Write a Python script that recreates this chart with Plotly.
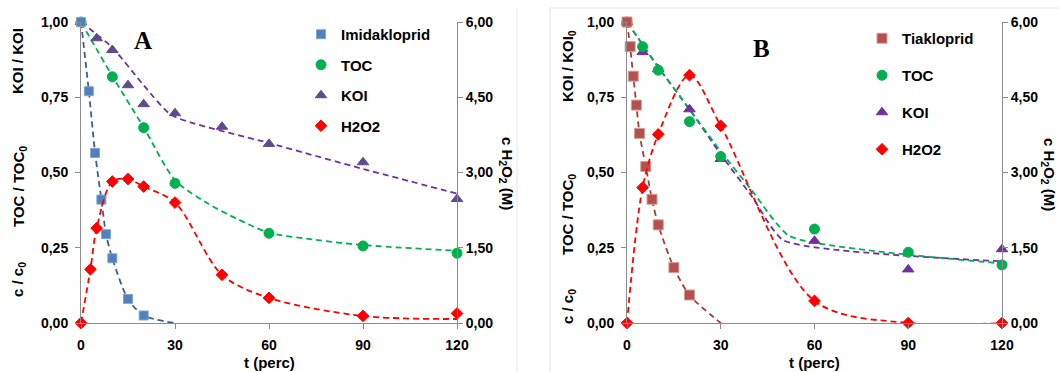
import plotly.graph_objects as go

# ---------------- Panel A: Imidakloprid ----------------
t_imid_a = [0, 2.5, 4.5, 6.5, 8, 10, 15, 20]
imid_a = [1.00, 0.77, 0.565, 0.41, 0.295, 0.215, 0.08, 0.025]
t_imid_fit_a = [0, 2.5, 4.5, 6.5, 8, 10, 15, 20, 30]
imid_fit_a = [1.00, 0.77, 0.565, 0.41, 0.295, 0.215, 0.08, 0.025, 0.0]

t_toc_a = [0, 10, 20, 30, 60, 90, 120]
toc_a = [1.00, 0.818, 0.649, 0.464, 0.298, 0.256, 0.232]
t_toc_fit_a = [0, 10, 20, 30, 40, 50, 60, 75, 90, 120]
toc_fit_a = [1.00, 0.82, 0.65, 0.475, 0.40, 0.345, 0.30, 0.276, 0.259, 0.24]

t_koi_a = [0, 5, 10, 15, 20, 30, 45, 60, 90, 120]
koi_a = [1.00, 0.946, 0.907, 0.79, 0.727, 0.697, 0.652, 0.595, 0.534, 0.412]
t_koi_fit_a = [0, 10, 20, 29, 60, 90, 120]
koi_fit_a = [1.00, 0.915, 0.79, 0.69, 0.598, 0.512, 0.43]

t_h2o2_a = [0, 3, 5, 10, 15, 20, 30, 45, 60, 90, 120]
h2o2_a = [0.0, 1.07, 1.89, 2.82, 2.87, 2.72, 2.40, 0.96, 0.50, 0.14, 0.19]
t_h2o2_fit_a = [0, 3, 5, 10, 15, 20, 30, 45, 60, 90, 120]
h2o2_fit_a = [0.0, 1.07, 1.89, 2.82, 2.87, 2.72, 2.40, 0.96, 0.50, 0.14, 0.08]

# ---------------- Panel B: Tiakloprid ----------------
t_tiak_b = [0, 1, 2, 3, 4, 6, 8, 10, 15, 20]
tiak_b = [1.00, 0.918, 0.82, 0.724, 0.63, 0.52, 0.411, 0.326, 0.184, 0.093]
t_tiak_fit_b = [0, 1, 2, 3, 4, 6, 8, 10, 15, 20, 30]
tiak_fit_b = [1.00, 0.918, 0.82, 0.724, 0.63, 0.52, 0.411, 0.326, 0.184, 0.093, 0.0]

t_toc_b = [0, 5, 10, 20, 30, 60, 90, 120]
toc_b = [1.00, 0.918, 0.84, 0.669, 0.553, 0.312, 0.235, 0.193]
t_toc_fit_b = [0, 10, 20, 30, 40, 52, 120]
toc_fit_b = [1.00, 0.85, 0.71, 0.57, 0.44, 0.289, 0.198]

t_koi_b = [0, 5, 10, 20, 30, 60, 90, 120]
koi_b = [1.00, 0.90, 0.843, 0.71, 0.545, 0.273, 0.178, 0.245]
t_koi_fit_b = [0, 10, 20, 30, 40, 50, 120]
koi_fit_b = [1.00, 0.85, 0.71, 0.56, 0.42, 0.275, 0.205]

t_h2o2_b = [0, 5, 10, 20, 30, 60, 90, 120]
h2o2_b = [0.0, 2.70, 3.76, 4.94, 3.93, 0.44, 0.0, 0.0]

# ---------------- axis ticks ----------------
x_ticks = [0, 30, 60, 90, 120]
y_ticks = [0, 0.25, 0.5, 0.75, 1.0]
y2_ticks = [0, 1.5, 3.0, 4.5, 6.0]

FONT = "Liberation Sans, Arial, sans-serif"
AXIS_GRAY = "#8c8c8c"
DASH = "6px,4px"

W, H = 1059, 372


def px_x(p):
    return p / W


def px_y(p):
    return (H - p) / H


fig = go.Figure()


def fit_line(x, y, xa, ya, color, smoothing=1.0):
    fig.add_trace(go.Scatter(
        x=x, y=y, xaxis=xa, yaxis=ya, mode="lines",
        line=dict(color=color, width=1.8, dash=DASH, shape="spline", smoothing=smoothing),
        showlegend=False, hoverinfo="skip", cliponaxis=False))


def points(x, y, xa, ya, name, symbol, size, color, edge, legend, rank):
    fig.add_trace(go.Scatter(
        x=x, y=y, xaxis=xa, yaxis=ya, mode="markers", name=name,
        marker=dict(symbol=symbol, size=size, color=color, line=dict(color=edge, width=1)),
        legend=legend, legendgroup=legend + name, legendrank=rank, cliponaxis=False))


# Panel A fitted curves
fit_line(t_koi_fit_a, koi_fit_a, "x", "y", "#7030A0", 0.6)
fit_line(t_toc_fit_a, toc_fit_a, "x", "y", "#00B050", 0.8)
fit_line(t_imid_fit_a, imid_fit_a, "x", "y", "#3D5E8E", 0.8)
fit_line(t_h2o2_fit_a, h2o2_fit_a, "x", "y2", "#FF0000", 0.9)

# Panel A measured points
points(t_h2o2_a, h2o2_a, "x", "y2", "H2O2", "diamond", 9, "#FF0000", "#FF0000", "legend", 4)
points(t_koi_a, koi_a, "x", "y", "KOI", "triangle-up", 10, "#5F4B8B", "#5F4B8B", "legend", 3)
points(t_toc_a, toc_a, "x", "y", "TOC", "circle", 10, "#00B050", "#00B050", "legend", 2)
points(t_imid_a, imid_a, "x", "y", "Imidakloprid", "square", 9, "#4F81BD", "#7FA3D1", "legend", 1)

# Panel B fitted curves
fit_line(t_koi_fit_b, koi_fit_b, "x2", "y3", "#7030A0", 0.5)
fit_line(t_toc_fit_b, toc_fit_b, "x2", "y3", "#00B050", 0.5)
fit_line(t_tiak_fit_b, tiak_fit_b, "x2", "y3", "#A83C3C", 0.8)
fit_line(t_h2o2_b, h2o2_b, "x2", "y4", "#FF0000", 0.9)

# Panel B measured points
points(t_h2o2_b, h2o2_b, "x2", "y4", "H2O2", "diamond", 9, "#FF0000", "#FF0000", "legend2", 4)
points(t_koi_b, koi_b, "x2", "y3", "KOI", "triangle-up", 10, "#7030A0", "#7030A0", "legend2", 3)
points(t_toc_b, toc_b, "x2", "y3", "TOC", "circle", 10, "#00B050", "#00B050", "legend2", 2)
points(t_tiak_b, tiak_b, "x2", "y3", "Tiakloprid", "square", 10, "#B5504D", "#D59A98", "legend2", 1)

tickfont = dict(family=FONT, size=14, color="black", weight="bold")

xaxis_common = dict(
    range=[0, 120], tickvals=x_ticks, tickformat="d", showgrid=False, zeroline=False,
    showline=True, linecolor=AXIS_GRAY, linewidth=1, ticks="outside", ticklen=5,
    tickcolor=AXIS_GRAY, tickfont=tickfont, automargin=False, ticklabelstandoff=4)
yaxis_common = dict(
    range=[0, 1], tickvals=y_ticks, tickformat=".2f", showgrid=False, zeroline=False,
    showline=True, linecolor=AXIS_GRAY, linewidth=1, ticks="outside", ticklen=5,
    tickcolor=AXIS_GRAY, tickfont=tickfont, ticklabelstandoff=4, automargin=False)
y2_common = dict(
    range=[0, 6], tickvals=y2_ticks, tickformat=".2f", showgrid=False, zeroline=False,
    showline=True, linecolor=AXIS_GRAY, linewidth=1, ticks="outside", ticklen=5,
    tickcolor=AXIS_GRAY, tickfont=tickfont, side="right", automargin=False)

dom_y = [px_y(323), px_y(22)]

legend_font = dict(family=FONT, size=15, color="black", weight="bold")

fig.update_layout(
    template="none",
    width=W, height=H, margin=dict(l=0, r=0, t=0, b=0, autoexpand=False),
    paper_bgcolor="white", plot_bgcolor="white",
    separators=",.",
    xaxis=dict(xaxis_common, domain=[px_x(81), px_x(457)], anchor="y"),
    yaxis=dict(yaxis_common, domain=dom_y, anchor="x"),
    yaxis2=dict(y2_common, overlaying="y", anchor="x"),
    xaxis2=dict(xaxis_common, domain=[px_x(627), px_x(1002)], anchor="y3"),
    yaxis3=dict(yaxis_common, domain=dom_y, anchor="x2"),
    yaxis4=dict(y2_common, overlaying="y3", anchor="x2"),
    legend=dict(x=px_x(301), y=px_y(18), xanchor="left", yanchor="top",
                font=legend_font, bgcolor="rgba(0,0,0,0)", traceorder="grouped",
                tracegroupgap=8, borderwidth=0),
    legend2=dict(x=px_x(862), y=px_y(22), xanchor="left", yanchor="top",
                 font=legend_font, bgcolor="rgba(0,0,0,0)", traceorder="grouped",
                 tracegroupgap=14.5, borderwidth=0),
    showlegend=True,
)

# Faint chart-area borders
fig.add_shape(type="line", xref="paper", yref="paper", x0=px_x(517), x1=px_x(517),
              y0=0, y1=px_y(8), line=dict(color="#e4e4e4", width=1))
fig.add_shape(type="line", xref="paper", yref="paper", x0=px_x(550), x1=px_x(550),
              y0=0, y1=px_y(8), line=dict(color="#e4e4e4", width=1))
fig.add_shape(type="line", xref="paper", yref="paper", x0=px_x(550), x1=1,
              y0=px_y(8), y1=px_y(8), line=dict(color="#e4e4e4", width=1))

title_font = dict(family=FONT, size=15, color="black", weight="bold")


def note(text, x, y, angle=0, font=title_font, xref="paper"):
    fig.add_annotation(text=text, x=x, y=y, xref=xref, yref="paper", showarrow=False,
                       textangle=angle, font=font, xanchor="center", yanchor="middle")


# Left axis titles (stacked labels)
note("c / c<sub>0</sub>", px_x(18), px_y(280), -90)
note("TOC / TOC<sub>0</sub>", px_x(19), px_y(187), -90)
note("KOI / KOI", px_x(18), px_y(61), -90)
note("c / c<sub>0</sub>", px_x(568), px_y(307), -90)
note("TOC / TOC<sub>0</sub>", px_x(569), px_y(215), -90)
note("KOI / KOI<sub>0</sub>", px_x(569), px_y(66), -90)

# Right axis titles
note("c H<sub>2</sub>O<sub>2</sub> (M)", px_x(507), px_y(173), 90)
note("c H<sub>2</sub>O<sub>2</sub> (M)", px_x(1049), px_y(174), 90)

# x axis titles
note("t (perc)", 60, px_y(362), 0, title_font, "x")
note("t (perc)", 60, px_y(362), 0, title_font, "x2")

# Panel letters
letter_font = dict(family="Liberation Serif, Times New Roman, serif", size=25,
                   color="black", weight="bold")
note("A", px_x(143), px_y(40), 0, letter_font)
note("B", px_x(761), px_y(48), 0, letter_font)

fig.write_html("out.html")
